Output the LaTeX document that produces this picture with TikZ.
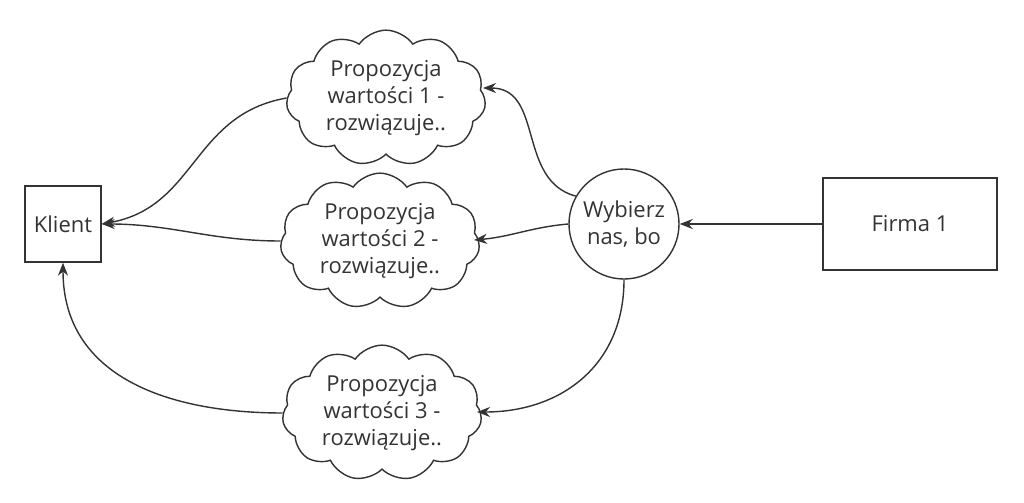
\documentclass[tikz,border=0pt]{standalone}
\usepackage{fontspec}
\setmainfont{Open Sans}
\usetikzlibrary{positioning,shapes,arrows.meta}
\definecolor{ink}{HTML}{333333}
\tikzstyle{box}=[%
      rectangle, draw=ink, thick, fill=none, align=center
]
\tikzstyle{idea}=[%
      cloud, cloud puffs=11, cloud puff arc=110, aspect=1.7, draw=ink, thick,
      align=center, inner sep=1pt
]
\begin{document}
\begin{tikzpicture}[x=0.02cm,y=-0.02cm,
    font=\fontsize{12.5}{15.5}\selectfont, text=ink,
    ->, -{Stealth[length=2.6mm,width=2mm]}, ink, thick
  ]
    \useasboundingbox (0,0) rectangle (1024,503);
    \node[box, minimum width=1.52cm, minimum height=1.52cm] (klient) at (63,224) {Klient};
    \node[box, minimum width=3.48cm, minimum height=1.84cm] (firma) at (910,224) {Firma 1};
    \node[circle, draw=ink, thick, minimum size=2.1cm, align=center] (why) at (624,224) {Wybierz\\nas, bo};
    \node[idea] (v1) at (386,98) {Propozycja\\wartości 1 -\\rozwiązuje..};
    \node[idea] (v2) at (380,241) {Propozycja\\wartości 2 -\\rozwiązuje..};
    \node[idea] (v3) at (382,413) {Propozycja\\wartości 3 -\\rozwiązuje..};
    \coordinate (w1) at (483,88);
    \coordinate (w2) at (474,240);
    \coordinate (w3) at (477,412);
    \path (firma) edge (why)
          (why.150) edge[out=165,in=0, looseness=1.1] (w1)
          (why.180) edge[out=185,in=5] (w2)
          (why.270) edge[out=270,in=0, looseness=1.1] (w3)
          (v1.west) edge[out=190,in=10, looseness=1.1] (klient.east)
          (v2.west) edge[out=180,in=0] (klient.east)
          (v3.west) edge[out=180,in=270, looseness=1.1] (klient.south)
    ;
\end{tikzpicture}
\end{document}
